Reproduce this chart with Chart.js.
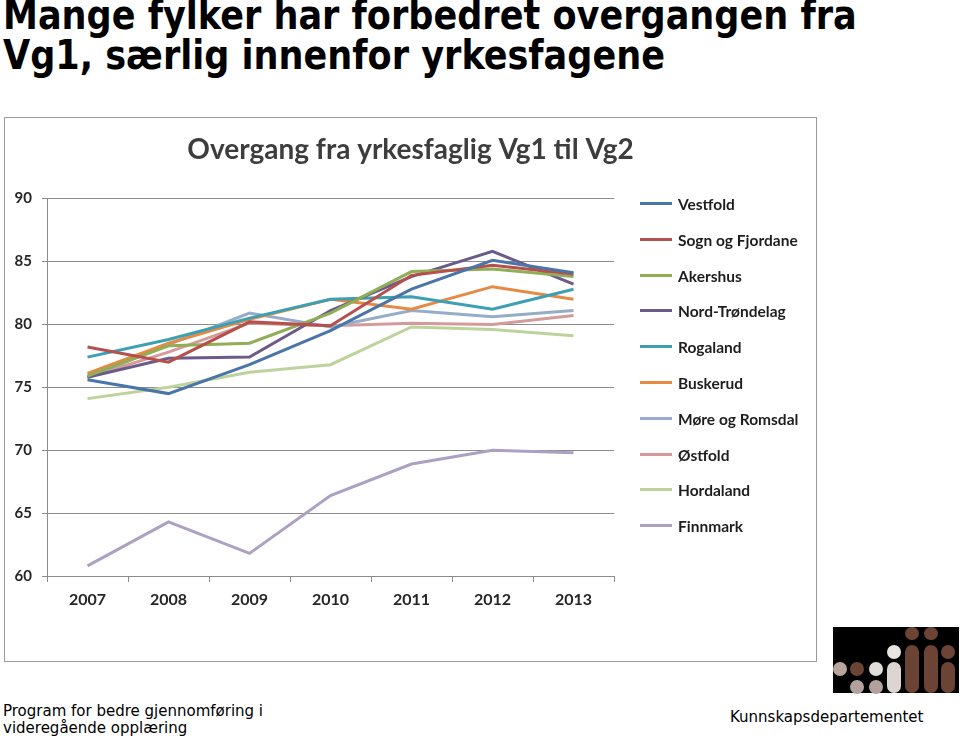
<!DOCTYPE html>
<html>
<head>
<meta charset="utf-8">
<script src="https://cdn.jsdelivr.net/npm/chart.js@4"></script>
<style>
  body { margin: 0; background: #fff; width: 960px; height: 738px; position: relative; overflow: hidden; }
  .headline { position: absolute; left: 3px; top: -5px; font-family: "DejaVu Sans Condensed", "DejaVu Sans", sans-serif; font-weight: bold; font-size: 40px; line-height: 40px; color: #000; white-space: nowrap; transform: scaleX(0.975); transform-origin: 0 0; }
  .frame { position: absolute; left: 4px; top: 117px; width: 811px; height: 543px; border: 1px solid #9a9a9a; }
  .frame canvas { position: absolute; left: 0; top: 0; }
  #legend { position: absolute; left: 0; top: 0; }
  .item { position: absolute; left: 635px; height: 20px; font-family: Lato, sans-serif; font-weight: bold; font-size: 15.5px; color: #1e1e1e; white-space: nowrap; }
  .item span.swatch { position: absolute; left: 0; top: 8px; width: 32px; height: 3px; }
  .item span.name { position: absolute; left: 38px; top: 0; line-height: 20px; }
  .foot { position: absolute; font-family: "DejaVu Sans", sans-serif; font-size: 15px; color: #000; }
  .logo { position: absolute; left: 833px; top: 627px; width: 126px; height: 66px; background: #000; }
  .logo div { position: absolute; width: 14px; border-radius: 7px; }
</style>
</head>
<body>
<div class="headline">Mange fylker har forbedret overgangen fra<br>Vg1, særlig innenfor yrkesfagene</div>

<div class="frame">
  <canvas id="chart"></canvas>
  <div id="legend"></div>
</div>

<div class="foot" style="left:3px; top:703px; line-height:17px;">Program for bedre gjennomføring i<br>videregående opplæring</div>
<div class="foot" style="left:730px; top:708px;">Kunnskapsdepartementet</div>

<div class="logo" id="logo"></div>

<script>
const years = ['2007', '2008', '2009', '2010', '2011', '2012', '2013'];

const vestfold      = [75.6, 74.5, 76.8, 79.5, 82.8, 85.1, 84.1];
const sognFjordane  = [78.2, 77.0, 80.2, 79.9, 83.9, 84.7, 84.0];
const akershus      = [75.9, 78.3, 78.5, 80.9, 84.2, 84.4, 83.8];
const nordTrondelag = [75.8, 77.3, 77.4, 81.1, 83.8, 85.8, 83.2];
const rogaland      = [77.4, 78.8, 80.5, 82.0, 82.2, 81.2, 82.8];
const buskerud      = [76.1, 78.5, 80.4, 82.0, 81.2, 83.0, 82.0];
const moreRomsdal   = [75.8, 78.4, 80.9, 79.8, 81.1, 80.6, 81.1];
const ostfold       = [75.8, 77.8, 80.1, 79.9, 80.1, 80.0, 80.7];
const hordaland     = [74.1, 75.0, 76.2, 76.8, 79.8, 79.6, 79.1];
const finnmark      = [60.8, 64.3, 61.8, 66.4, 68.9, 70.0, 69.8];

const names  = ['Vestfold', 'Sogn og Fjordane', 'Akershus', 'Nord-Trøndelag', 'Rogaland',
                'Buskerud', 'Møre og Romsdal', 'Østfold', 'Hordaland', 'Finnmark'];
const series = [vestfold, sognFjordane, akershus, nordTrondelag, rogaland,
                buskerud, moreRomsdal, ostfold, hordaland, finnmark];
const colors = ['#4a75a8', '#b5504c', '#8fae56', '#6c5a8a', '#3c9fb3',
                '#e68a43', '#97acc8', '#d49b9a', '#bdd39b', '#ada1c3'];

const yTicks = [60, 65, 70, 75, 80, 85, 90];
const chartTitle = 'Overgang fra yrkesfaglig Vg1 til Vg2';

const gridColor = '#8c8c8c';

new Chart(document.getElementById('chart'), {
  type: 'line',
  data: {
    labels: years,
    datasets: series.map((d, i) => ({
      label: names[i],
      data: d,
      borderColor: colors[i],
      backgroundColor: colors[i],
      borderWidth: 3,
      pointRadius: 0,
      tension: 0
    }))
  },
  options: {
    responsive: true,
    maintainAspectRatio: false,
    animation: false,
    layout: { padding: 0 },
    plugins: {
      legend: { display: false },
      tooltip: { enabled: false },
      title: {
        display: true,
        text: chartTitle,
        color: '#3d3d3d',
        font: { family: 'Lato', weight: 'bold', size: 28, lineHeight: 1.2 },
        padding: { top: 15, bottom: 32 }
      }
    },
    scales: {
      x: {
        offset: true,
        grid: { offset: true, drawOnChartArea: false, drawTicks: true, tickLength: 6, color: gridColor },
        border: { color: gridColor },
        ticks: { color: '#262626', font: { family: 'Lato', weight: 'bold', size: 16 }, padding: 8, maxRotation: 0 },
        afterFit: s => { s.height = 85; }
      },
      y: {
        min: yTicks[0],
        max: yTicks[yTicks.length - 1],
        afterBuildTicks: s => { s.ticks = yTicks.map(v => ({ value: v })); },
        grid: { color: gridColor, tickLength: 5 },
        border: { color: gridColor },
        ticks: { color: '#262626', font: { family: 'Lato', weight: 'bold', size: 15 }, padding: 10 },
        afterFit: s => { s.width = 42; }
      },
      // empty right-hand axis that keeps room for the legend
      side: {
        position: 'right',
        min: 0,
        max: 1,
        grid: { display: false },
        border: { display: false },
        ticks: { display: false },
        afterFit: s => { s.width = 202; }
      }
    }
  }
});

// legend built from the same names and colours
const legend = document.getElementById('legend');
names.forEach((n, i) => {
  const row = document.createElement('div');
  row.className = 'item';
  row.style.top = (76 + i * 35.8) + 'px';
  row.innerHTML = `<span class="swatch" style="background:${colors[i]}"></span><span class="name">${n}</span>`;
  legend.appendChild(row);
});

// department logo: dots and bars
const logoParts = [
  [0, 35, 14, 14, '#b9a59c'],
  [17, 35, 14, 14, '#6b4436'], [17, 53, 14, 14, '#b3a29b'],
  [36, 35, 14, 14, '#e2dedb'], [36, 53, 14, 14, '#b3a29b'],
  [54, 18, 14, 14, '#e8e4e2'], [54, 35, 14, 31, '#dcd5d2'],
  [72, 0, 14, 13, '#6b4436'], [72, 18, 14, 48, '#6b4436'],
  [91, 0, 14, 13, '#6b4436'], [91, 18, 14, 48, '#6b4436'],
  [108, 18, 14, 14, '#6b4436'], [108, 35, 14, 31, '#6b4436']
];
const logo = document.getElementById('logo');
logoParts.forEach(([x, y, w, h, c]) => {
  const d = document.createElement('div');
  d.style.cssText = `left:${x}px;top:${y}px;width:${w}px;height:${h}px;background:${c}`;
  logo.appendChild(d);
});
</script>
</body>
</html>
